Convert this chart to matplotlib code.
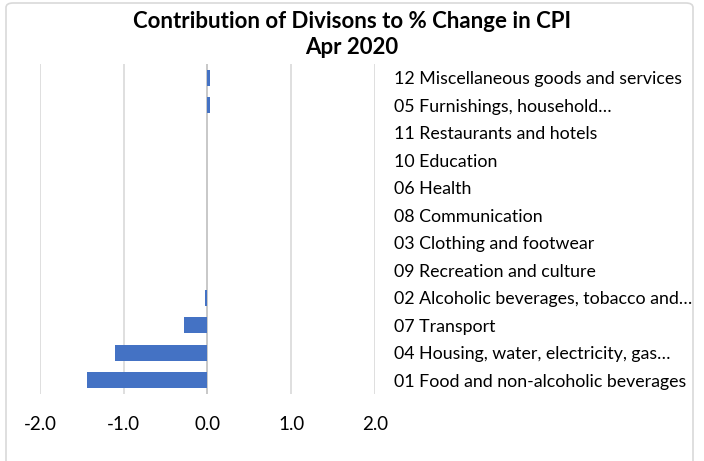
import matplotlib
matplotlib.use("Agg")
import matplotlib.pyplot as plt
from matplotlib.patches import FancyBboxPatch

categories = [
    "01 Food and non-alcoholic beverages",
    "04 Housing, water, electricity, gas\u2026",
    "07 Transport",
    "02 Alcoholic beverages, tobacco and\u2026",
    "09 Recreation and culture",
    "03 Clothing and footwear",
    "08 Communication",
    "06 Health",
    "10 Education",
    "11 Restaurants and hotels",
    "05 Furnishings, household\u2026",
    "12 Miscellaneous goods and services",
]
values = [-1.44, -1.10, -0.28, -0.03, -0.005, 0.0, 0.0, 0.0, 0.0, 0.0, 0.03, 0.03]
xticks = [-2.0, -1.0, 0.0, 1.0, 2.0]

plt.rcParams['font.family'] = ['Lato', 'DejaVu Sans']

fig = plt.figure(figsize=(7.04, 4.61), dpi=100)
ax = fig.add_axes([40/704, 1-394/461, (375-40)/704, (394-64)/461])

y = list(range(len(categories)))
ax.barh(y, values, height=0.58, color="#4472C4", zorder=3)

ax.set_xlim(-2, 2)
ax.set_ylim(-0.5, len(categories)-0.5)
ax.set_xticks(xticks)
ax.set_xticklabels([f"{v:.1f}" for v in xticks], fontsize=13.5)
ax.tick_params(axis='x', length=0, pad=16)
for v in xticks:
    ax.axvline(v, color="#BFBFBF" if v == 0 else "#D9D9D9", lw=1.2, zorder=1)

ax.yaxis.tick_right()
ax.set_yticks(y)
ax.set_yticklabels(categories, fontsize=12.8)
ax.tick_params(axis='y', length=0, pad=14)
for s in ax.spines.values():
    s.set_visible(False)

fig.text(0.5, 1-21/461, "Contribution of Divisons to % Change in CPI", ha='center', va='center',
         fontsize=16, fontweight='bold')
fig.text(0.5, 1-47/461, "Apr 2020", ha='center', va='center', fontsize=16, fontweight='bold')

border = FancyBboxPatch((6/704, -0.05), (693-6)/704, 1-3/461+0.05, boxstyle="round,pad=0,rounding_size=0.01",
                        transform=fig.transFigure, fill=False, edgecolor="#D9D9D9", lw=1.2)
fig.patches.append(border)

fig.savefig("out.png", dpi=100)
